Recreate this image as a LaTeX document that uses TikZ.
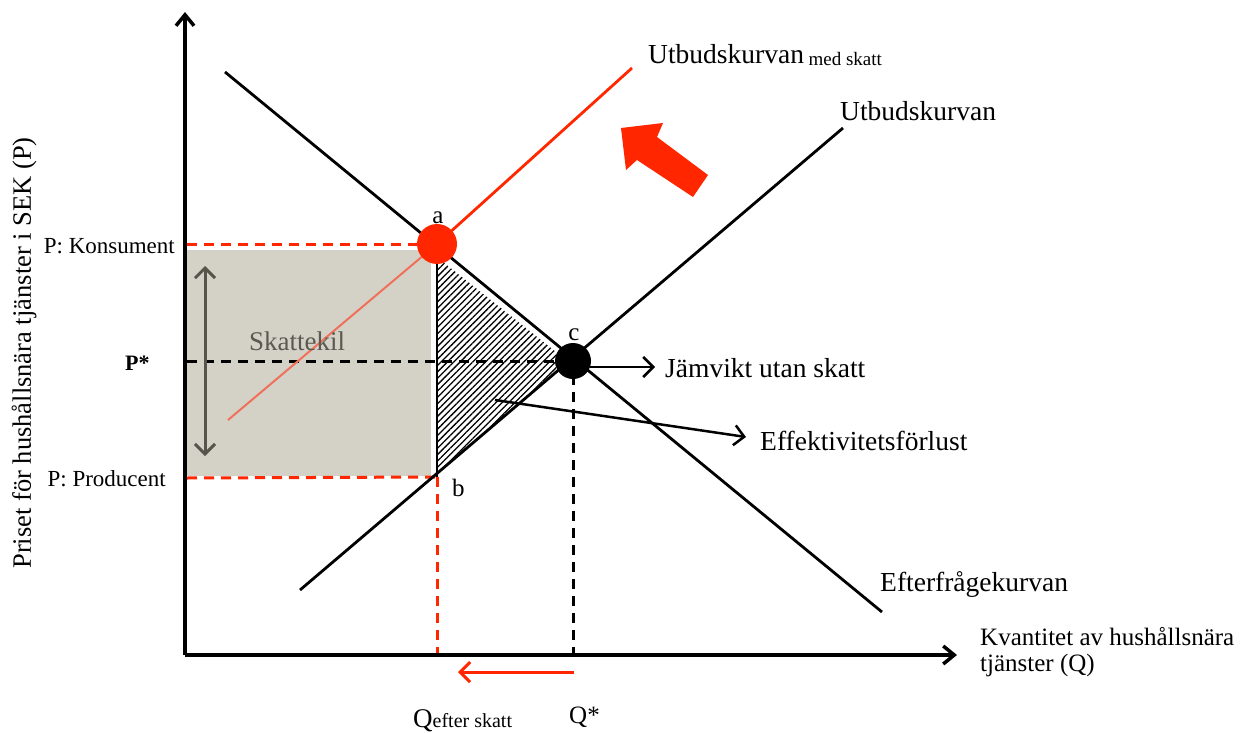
\documentclass[tikz,border=0pt]{standalone}
\usepackage{fontspec}
\setmainfont{Liberation Serif}
\usetikzlibrary{patterns.meta,arrows.meta}
\definecolor{tred}{HTML}{FF2600}
\definecolor{tredlight}{HTML}{F0705A}
\definecolor{boxgrey}{HTML}{D4D1C6}
\definecolor{arrgrey}{HTML}{55554C}
\definecolor{txtgrey}{HTML}{5A5A52}
\newcommand{\fs}[1]{\fontsize{#1}{#1}\selectfont}
\begin{document}
\begin{tikzpicture}[x=1pt,y=-1pt,
  font=\fs{22},
  curve/.style={line width=2.8pt,black},
  axis/.style={line width=3.5pt,-{Straight Barb[length=11pt,width=18pt,line width=3.5pt]}},
  reddash/.style={tred,line width=3pt,dash pattern=on 10pt off 7pt},
  blackdash/.style={black,line width=3pt,dash pattern=on 10pt off 7pt},
  lbl/.style={inner sep=0pt,anchor=base west},
  lblr/.style={inner sep=0pt,anchor=base east},
  big/.style={font=\fs{27.5}},
  ptr/.style={line width=2.5pt,-{Straight Barb[length=10pt,width=20pt,line width=2.5pt]}},
  dot/.style={circle,inner sep=0pt}]
\useasboundingbox (0,0) rectangle (1250,733);

% coordinates
\coordinate (O) at (185,655);
\coordinate (ytop) at (185,12);
\coordinate (xend) at (957,655);
\coordinate (d1) at (225,72);
\coordinate (d2) at (882,612);
\coordinate (s1) at (300,590);
\coordinate (s2) at (843,128);
\coordinate (t1) at (228,420);
\coordinate (t2) at (632,68);
\coordinate (pa) at (437,244);
\coordinate (pb) at (437,477);
\coordinate (pc) at (573,361);

% grey tax wedge box
\fill[boxgrey] (187,250) rectangle (431,476);

% hatched deadweight loss
\fill[pattern={Lines[angle=45,distance=4.5pt,line width=1.3pt]}] (438,258) -- (556,352) -- (556,370) -- (438,474) -- cycle;
\draw[line width=1.2pt] (437,258) -- (pb);

% dashed guides
\draw[reddash] (187,244) -- (pa);
\draw[reddash] (187,478) -- (pb);
\draw[reddash] (pb) -- (437,653);
\draw[blackdash] (187,361) -- (pc);
\draw[blackdash] (573,375) -- (573,653);

% curves
\draw[curve] (d1) -- (d2);
\draw[curve] (s1) -- (s2);
\draw[tredlight,line width=2pt] (t1) -- (pa);
\draw[tred,line width=2.8pt] (pa) -- (t2);

% axes
\draw[axis] (O) -- (ytop);
\draw[axis] (O) -- (xend);

% tax wedge double arrow
\coordinate (w1) at (205,266);
\coordinate (w2) at (205,456);
\draw[arrgrey,line width=3pt,{Straight Barb[length=10pt,width=20pt,line width=3pt]}-{Straight Barb[length=10pt,width=20pt,line width=3pt]}] (w1) -- (w2);

% points
\node[dot,fill=tred,minimum size=40pt] (a) at (pa) {};
\node[dot,fill=black,minimum size=36pt] (c) at (pc) {};
\node[lbl,anchor=base,font=\fs{25}] (la) at (438,223) {a};
\node[lbl,anchor=base,font=\fs{25}] (lc) at (574,340) {c};
\node[lbl,font=\fs{25}] (lb) at (452,496) {b};

% big red shift arrow
\fill[tred] (621,128) -- (663,123) -- (657,137) -- (708,175) -- (693,197) -- (637,160) -- (626,170) -- cycle;

% quantity shift arrow
\coordinate (qs1) at (574,672);
\coordinate (qs2) at (458,672);
\draw[tred,line width=3pt,-{Straight Barb[length=10pt,width=20pt,line width=3pt]}] (qs1) -- (qs2);

% labels
\node[lbl,big] (lts) at (648,64) {Utbudskurvan\,\raisebox{-2pt}{\fs{19}med skatt}};
\node[lbl,big] (lus) at (840,121) {Utbudskurvan};
\node[lbl,big] (lef) at (880,591) {Efterfrågekurvan};
\node[lbl,font=\fs{25}] (lq1) at (980,645) {Kvantitet av hushållsnära};
\node[lbl,font=\fs{25}] (lq2) at (980,671) {tjänster (Q)};
\node[lblr,font=\fs{23}] (lpk) at (175,253) {P: Konsument};
\node[lbl,font=\fs{22}\bfseries] (lps) at (125,370) {P*};
\node[lblr,font=\fs{23}] (lpp) at (166,486) {P: Producent};
\node[lbl,text=txtgrey,font=\fs{27}] (lsk) at (249,350) {Skattekil};
\node[lbl] (lqe) at (413,727) {{\fs{27}Q}{\fs{20}efter skatt}};
\node[lbl,font=\fs{25}] (lqs) at (569,723) {Q*};
\node[inner sep=0pt,rotate=90,font=\fs{26.5}] (ly) at (24,353) {Priset för hushållsnära tjänster i SEK (P)};

% pointer arrows
\node[lbl,big] (ljv) at (665,377) {Jämvikt utan skatt};
\node[lbl,big] (lee) at (760,450) {Effektivitetsförlust};
\coordinate (jv0) at (590,367);
\coordinate (jv1) at (655,367);
\draw[ptr] (jv0) -- (jv1);
\coordinate (ee0) at (495,400);
\coordinate (ee1) at (746,437);
\draw[ptr] (ee0) -- (ee1);
\end{tikzpicture}
\end{document}
